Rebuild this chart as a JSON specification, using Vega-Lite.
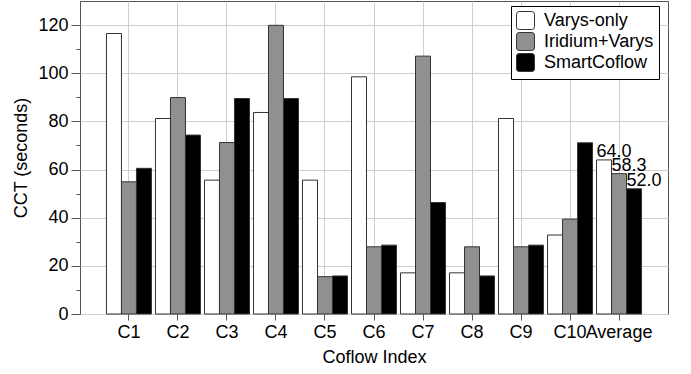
{
  "$schema": "https://vega.github.io/schema/vega-lite/v6.json",
  "width": 588,
  "height": 313,
  "autosize": {"type": "none"},
  "padding": {"left": 80, "top": 1, "right": 23, "bottom": 60},
  "data": {
    "values": [
      {"group": "C1", "series": "Varys-only", "value": 116.5},
      {"group": "C1", "series": "Iridium+Varys", "value": 54.9},
      {"group": "C1", "series": "SmartCoflow", "value": 60.5},
      {"group": "C2", "series": "Varys-only", "value": 81.2},
      {"group": "C2", "series": "Iridium+Varys", "value": 89.9},
      {"group": "C2", "series": "SmartCoflow", "value": 74.3},
      {"group": "C3", "series": "Varys-only", "value": 55.6},
      {"group": "C3", "series": "Iridium+Varys", "value": 71.2},
      {"group": "C3", "series": "SmartCoflow", "value": 89.5},
      {"group": "C4", "series": "Varys-only", "value": 83.7},
      {"group": "C4", "series": "Iridium+Varys", "value": 119.9},
      {"group": "C4", "series": "SmartCoflow", "value": 89.5},
      {"group": "C5", "series": "Varys-only", "value": 55.6},
      {"group": "C5", "series": "Iridium+Varys", "value": 15.5},
      {"group": "C5", "series": "SmartCoflow", "value": 15.8},
      {"group": "C6", "series": "Varys-only", "value": 98.5},
      {"group": "C6", "series": "Iridium+Varys", "value": 27.9},
      {"group": "C6", "series": "SmartCoflow", "value": 28.6},
      {"group": "C7", "series": "Varys-only", "value": 17.1},
      {"group": "C7", "series": "Iridium+Varys", "value": 107.1},
      {"group": "C7", "series": "SmartCoflow", "value": 46.3},
      {"group": "C8", "series": "Varys-only", "value": 17.1},
      {"group": "C8", "series": "Iridium+Varys", "value": 27.9},
      {"group": "C8", "series": "SmartCoflow", "value": 15.8},
      {"group": "C9", "series": "Varys-only", "value": 81.2},
      {"group": "C9", "series": "Iridium+Varys", "value": 27.9},
      {"group": "C9", "series": "SmartCoflow", "value": 28.6},
      {"group": "C10", "series": "Varys-only", "value": 32.8},
      {"group": "C10", "series": "Iridium+Varys", "value": 39.4},
      {"group": "C10", "series": "SmartCoflow", "value": 71.1},
      {"group": "Average", "series": "Varys-only", "value": 64.0},
      {"group": "Average", "series": "Iridium+Varys", "value": 58.3},
      {"group": "Average", "series": "SmartCoflow", "value": 52.0}
    ]
  },
  "encoding": {
    "x": {
      "field": "group",
      "type": "nominal",
      "sort": ["C1", "C2", "C3", "C4", "C5", "C6", "C7", "C8", "C9", "C10", "Average"],
      "scale": {"paddingInner": 0.082, "paddingOuter": 0.54},
      "axis": {
        "title": "Coflow Index",
        "labelAngle": 0,
        "tickSize": 6,
        "grid": true,
        "labelPadding": 3,
        "titlePadding": 7
      }
    },
    "xOffset": {
      "field": "series",
      "type": "nominal",
      "sort": ["Varys-only", "Iridium+Varys", "SmartCoflow"],
      "scale": {"paddingInner": 0, "paddingOuter": 0}
    }
  },
  "layer": [
    {
      "mark": {"type": "bar", "stroke": "#333", "strokeWidth": 1},
      "encoding": {
        "y": {
          "field": "value",
          "type": "quantitative",
          "scale": {"domain": [0, 130], "nice": false},
          "axis": {
            "title": "CCT (seconds)",
            "values": [0, 20, 40, 60, 80, 100, 120],
            "tickSize": 9,
            "grid": true,
            "labelPadding": 3,
            "titlePadding": 7
          }
        },
        "fill": {
          "field": "series",
          "type": "nominal",
          "sort": ["Varys-only", "Iridium+Varys", "SmartCoflow"],
          "scale": {"domain": ["Varys-only", "Iridium+Varys", "SmartCoflow"], "range": ["#ffffff", "#909090", "#000000"]},
          "legend": {"title": null}
        }
      }
    },
    {
      "transform": [{"filter": "datum.group === 'Average'"}],
      "mark": {"type": "text", "align": "left", "baseline": "bottom", "dx": -7.5, "dy": 1, "fontSize": 18, "color": "#000"},
      "encoding": {
        "y": {
          "field": "value",
          "type": "quantitative",
          "axis": {
            "orient": "left",
            "title": null,
            "values": [10, 30, 50, 70, 90, 110],
            "labels": false,
            "grid": false,
            "tickSize": 4
          }
        },
        "text": {"field": "value", "type": "quantitative", "format": ".1f"}
      }
    }
  ],
  "resolve": {"axis": {"y": "independent"}},
  "config": {
    "font": "Liberation Sans",
    "view": {"stroke": "#555", "strokeWidth": 1},
    "axis": {
      "domain": false,
      "labelFontSize": 18,
      "titleFontSize": 18,
      "titleFontWeight": "normal",
      "labelColor": "#000",
      "titleColor": "#000",
      "tickColor": "#555",
      "gridColor": "#cfcfcf",
      "gridWidth": 1,
      "gridOpacity": 1
    },
    "legend": {
      "orient": "none",
      "legendX": 431,
      "legendY": 5,
      "fillColor": "#ffffff",
      "strokeColor": "#000000",
      "padding": 5,
      "labelFontSize": 18,
      "labelColor": "#000",
      "symbolSize": 324,
      "symbolType": "M-0.7,-1H0.7Q1,-1,1,-0.7V0.7Q1,1,0.7,1H-0.7Q-1,1,-1,0.7V-0.7Q-1,-1,-0.7,-1Z",
      "symbolStrokeColor": "#333",
      "symbolStrokeWidth": 1,
      "rowPadding": -3,
      "labelOffset": 9
    }
  }
}
